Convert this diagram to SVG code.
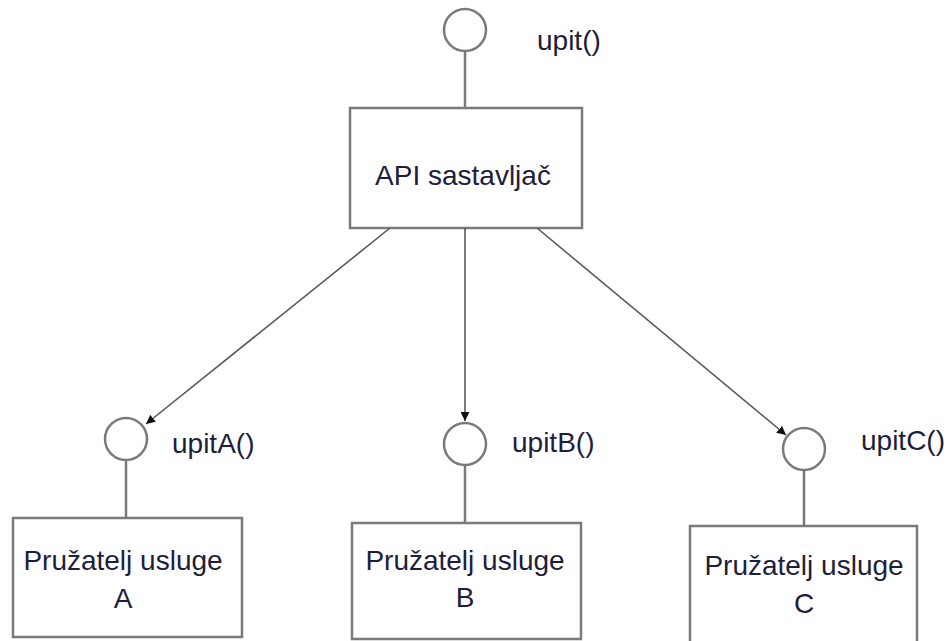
<svg xmlns="http://www.w3.org/2000/svg" width="948" height="641" viewBox="0 0 948 641">
<style>
.box{fill:#fff;stroke:#7a7a7a;stroke-width:2.5}
.iface{fill:#fff;stroke:#7a7a7a;stroke-width:2.5}
.stem{stroke:#7a7a7a;stroke-width:2.5;fill:none}
.conn{stroke:#5a5a5a;stroke-width:1.6;fill:none;marker-end:url(#arr)}
text{font-family:"Liberation Sans",Arial,sans-serif;font-size:28px;fill:#1e1e3c}
.c{text-anchor:middle}
</style>
<defs>
<marker id="arr" viewBox="0 0 10 10" refX="10" refY="5" markerWidth="9" markerHeight="9" markerUnits="userSpaceOnUse" orient="auto">
<path d="M0,0 L10,5 L0,10 z" fill="#111"/>
</marker>
</defs>
<rect width="948" height="641" fill="#fff"/>
<g id="api">
<line class="stem" x1="465" y1="51" x2="465" y2="108"/>
<circle class="iface" cx="465" cy="30" r="21"/>
<text x="537" y="50">upit()</text>
<rect class="box" x="350" y="108" width="232" height="120"/>
<text class="c" x="463" y="185">API sastavljač</text>
</g>
<g id="provA">
<line class="stem" x1="126" y1="460" x2="126" y2="518"/>
<circle class="iface" cx="126" cy="439" r="21"/>
<text x="172" y="453">upitA()</text>
<rect class="box" x="13" y="518" width="229" height="119"/>
<text class="c" x="123" y="570">Pružatelj usluge</text>
<text class="c" x="123" y="608">A</text>
</g>
<g id="provB">
<line class="stem" x1="465" y1="465" x2="465" y2="523"/>
<circle class="iface" cx="465" cy="444" r="21"/>
<text x="512" y="452">upitB()</text>
<rect class="box" x="352" y="523" width="229" height="116"/>
<text class="c" x="465" y="570">Pružatelj usluge</text>
<text class="c" x="465" y="607">B</text>
</g>
<g id="provC">
<line class="stem" x1="804" y1="470" x2="804" y2="526"/>
<circle class="iface" cx="804" cy="449" r="21"/>
<text x="861" y="450">upitC()</text>
<rect class="box" x="690" y="526" width="227" height="125"/>
<text class="c" x="804" y="575">Pružatelj usluge</text>
<text class="c" x="804" y="613">C</text>
</g>
<g id="connectors">
<line class="conn" x1="390" y1="228" x2="146" y2="424"/>
<line class="conn" x1="465" y1="228" x2="465" y2="421"/>
<line class="conn" x1="537" y1="228" x2="786" y2="435"/>
</g>
</svg>
